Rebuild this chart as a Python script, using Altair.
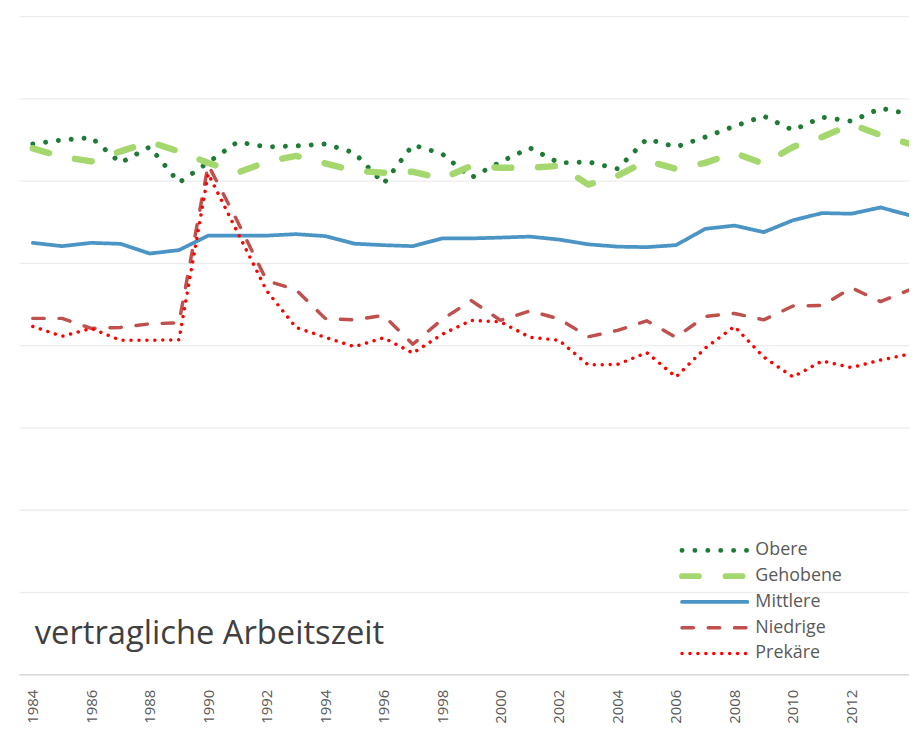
import altair as alt
import pandas as pd

years = list(range(1984, 2015))

obere = [32.23, 32.47, 32.62, 31.08, 32.05, 29.88, 31.11, 32.35, 32.05, 32.11,
         32.23, 31.69, 29.82, 32.17, 31.63, 30.18, 31.14, 31.99, 31.08, 31.14,
         30.72, 32.53, 32.05, 32.65, 33.31, 33.92, 33.07, 33.86, 33.61, 34.40, 34.04]
gehobene = [31.96, 31.45, 31.17, 31.78, 32.35, 31.78, 31.08, 30.48, 31.14, 31.51,
            31.05, 30.60, 30.48, 30.54, 30.12, 30.90, 30.78, 30.78, 30.90, 29.76,
            30.30, 31.20, 30.72, 31.08, 31.69, 31.02, 32.05, 32.65, 33.43, 32.77, 32.23]
mittlere = [26.22, 26.02, 26.22, 26.16, 25.57, 25.78, 26.66, 26.66, 26.66, 26.75,
            26.63, 26.17, 26.08, 26.02, 26.49, 26.49, 26.54, 26.60, 26.42, 26.13,
            25.99, 25.96, 26.08, 27.07, 27.27, 26.87, 27.59, 28.03, 27.99, 28.37, 27.89]
niedrige = [21.63, 21.63, 21.02, 21.08, 21.30, 21.36, 30.96, 27.53, 23.92, 23.37,
            21.63, 21.54, 21.81, 20.06, 21.57, 22.71, 21.51, 22.08, 21.60, 20.51,
            20.90, 21.48, 20.48, 21.75, 21.93, 21.54, 22.38, 22.41, 23.49, 22.65, 23.37]
prekaere = [21.14, 20.54, 21.02, 20.30, 20.30, 20.33, 30.42, 26.87, 23.31, 21.08,
            20.48, 19.91, 20.45, 19.52, 20.66, 21.51, 21.42, 20.48, 20.30, 18.80,
            18.83, 19.55, 18.07, 19.82, 21.14, 19.28, 18.07, 19.04, 18.64, 19.10, 19.46]

names = ["Obere", "Gehobene", "Mittlere", "Niedrige", "Prekäre"]
colors = ["#1E7B36", "#A4D86E", "#4A94C6", "#C0504D", "#FF0000"]
dashes = [[0.01, 13], [17, 27], [1, 0], [11.5, 15], [0.01, 8]]
widths = [5, 6.5, 3.75, 3.5, 3.5]
tick_years = list(range(1984, 2015, 2))
grid_values = [0, 5, 10, 15, 20, 25, 30, 35, 40]
label_text = ["vertragliche Arbeitszeit"]

series = [obere, gehobene, mittlere, niedrige, prekaere]
rows = []
for name, vals in zip(names, series):
    for y, v in zip(years, vals):
        rows.append({"year": y, "series": name, "value": v})
df = pd.DataFrame(rows)
legend_df = pd.DataFrame({"series": names})

color_enc = alt.Color("series:N", scale=alt.Scale(domain=names, range=colors), legend=None)
dash_enc = alt.StrokeDash("series:N", scale=alt.Scale(domain=names, range=dashes), legend=None)

xscale = alt.Scale(domain=[1983.525, 2013.97], nice=False, zero=False)
yscale = alt.Scale(domain=[0, 40], nice=False)
x_enc = alt.X("year:Q", scale=xscale,
              axis=alt.Axis(values=tick_years, format="d", labelAngle=270, labelFont="Open Sans",
                            labelFontSize=15, labelColor="#595959", labelPadding=15,
                            ticks=False, grid=False, domainColor="#D9D9D9", domainWidth=1.5,
                            title=None, labelOverlap=False, labelFlush=False))
y_enc = alt.Y("value:Q", scale=yscale,
              axis=alt.Axis(values=grid_values, labels=False, ticks=False, domain=False,
                            grid=True, gridColor="#EDEDED", gridWidth=1.3, title=None))

line_layers = []
for name, w in zip(names, widths):
    line_layers.append(
        alt.Chart(df).transform_filter(alt.datum.series == name)
        .mark_line(strokeWidth=w, strokeCap="round", strokeJoin="round", clip=True)
        .encode(x=x_enc, y=y_enc, color=color_enc, strokeDash=dash_enc,
                order=alt.Order("year:Q"))
    )
lines = alt.layer(*line_layers)

leg_y = alt.Y("series:N", scale=alt.Scale(type="point", domain=names, range=[539, 643], padding=0),
              axis=None)
legend_layers = []
for name, w in zip(names, widths):
    legend_layers.append(
        alt.Chart(legend_df).transform_filter(alt.datum.series == name)
        .mark_rule(strokeWidth=min(w, 6), strokeCap="round")
        .encode(x=alt.value(669), x2=alt.value(735), y=leg_y, color=color_enc, strokeDash=dash_enc)
    )
legend_layers.append(
    alt.Chart(legend_df).mark_text(align="left", baseline="middle", font="Open Sans",
                                   fontSize=18, color="#595959")
    .encode(x=alt.value(743), y=leg_y, text="series:N")
)
legend = alt.layer(*legend_layers)

label = alt.Chart(pd.DataFrame({"t": label_text})).mark_text(
    align="left", baseline="alphabetic", font="Open Sans", fontSize=33, color="#404040"
).encode(x=alt.value(16), y=alt.value(633), text="t:N")

chart = alt.layer(lines, legend, label).resolve_scale(y="independent").properties(
    width=898, height=664,
    padding={"left": 11, "top": 5, "right": 0, "bottom": 50},
    autosize=alt.AutoSizeParams(type="none"),
).configure_view(stroke=None)

chart.save("out.html", embed_options={"renderer": "svg", "actions": False})
